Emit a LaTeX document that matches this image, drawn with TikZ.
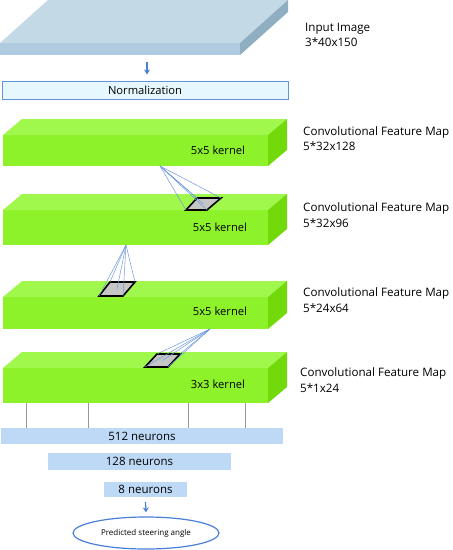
\documentclass[tikz,border=0pt]{standalone}
\usepackage{fontspec}
\setmainfont{Open Sans}
\usepackage{tikz}
\usetikzlibrary{arrows.meta,positioning,calc,shapes.geometric}

\definecolor{greentop}{HTML}{A0F84C}
\definecolor{greenfront}{HTML}{8EF22B}
\definecolor{greenside}{HTML}{72D90A}
\definecolor{inputtop}{HTML}{C3D9E6}
\definecolor{inputfront}{HTML}{AECBDF}
\definecolor{inputside}{HTML}{8FAEC1}
\definecolor{neuronfill}{HTML}{BED9F5}
\definecolor{arrowblue}{HTML}{4A7FD6}

\begin{document}
\begin{tikzpicture}[
  x=1pt, y=-1pt,
  font=\fontsize{11}{14}\selectfont,
  front/.style={fill=greenfront, minimum width=265pt, minimum height=#1 pt, inner sep=0pt, outer sep=0pt, anchor=north west},
  topface/.style={fill=greentop},
  sideface/.style={fill=greenside},
  kern/.style={font=\fontsize{11.2}{13}\selectfont},
  lab/.style={align=left, anchor=west, font=\fontsize{11.6}{15.5}\selectfont, inner sep=0pt},
  neurons/.style={fill=neuronfill, inner sep=0pt, font=\fontsize{11.5}{13}\selectfont},
  fan/.style={draw=arrowblue!80, line width=0.5pt},
  patch/.style={draw=black, fill=gray!45, line width=1.6pt, line join=miter},
  link/.style={draw=gray!80, line width=0.8pt},
  arr/.style={draw=arrowblue, line width=1.2pt, -{Stealth[length=5pt,width=6pt]}}
]
\useasboundingbox (0,0) rectangle (453,550);

% Input image slab.
\node[fill=inputfront, minimum width=240pt, minimum height=12pt, inner sep=0pt, outer sep=0pt, anchor=north west] (s0) at (0,43) {};
\fill[inputtop] (s0.north west) -- ++(48,-43) -- ++(240,0) -- (s0.north east) -- cycle;
\fill[inputside] (s0.north east) -- ++(48,-43) -- ++(0,12) -- (s0.south east) -- cycle;
\node[lab] (l0) at (305,35) {Input Image\\3*40x150};

% Normalization.
\node[draw=arrowblue!85, fill=cyan!10, line width=1pt, minimum width=286pt, minimum height=18pt, inner sep=0pt, font=\fontsize{11.2}{13}\selectfont] (norm) at (145,90) {Normalization};
\draw[arr] ([shift={(2,-19)}]norm.north) -- ([shift={(2,-6)}]norm.north);

% Convolutional slabs.
\foreach \n/\y/\h in {1/135/31,2/210/35,3/297/32,4/368/35} {
  \node[front=\h] (s\n) at (3,\y) {};
  \fill[topface] (s\n.north west) -- ++(19,-16) -- ++(265,0) -- (s\n.north east) -- cycle;
  \fill[sideface] (s\n.north east) -- ++(19,-16) -- ++(0,\h) -- (s\n.south east) -- cycle;
}
\node[kern] (k1) at (218,150) {5x5 kernel};
\node[kern] (k2) at (220,227) {5x5 kernel};
\node[kern] (k3) at (220,311) {5x5 kernel};
\node[kern] (k4) at (218,384) {3x3 kernel};

\node[lab] (l1) at (303,138.5) {Convolutional Feature Map\\5*32x128};
\node[lab] (l2) at (303,215) {Convolutional Feature Map\\5*32x96};
\node[lab] (l3) at (303,300) {Convolutional Feature Map\\5*24x64};
\node[lab] (l4) at (300,380) {Convolutional Feature Map\\5*1x24};

% Kernel patches and their receptive fields.
\coordinate (src2) at (160,166);
\coordinate (src3) at (126,245);
\coordinate (src4) at (210,329);
\foreach \px/\py [count=\i] in {186/210,197/198,221/198,207/210} \coordinate (p2-\i) at (\px,\py);
\foreach \px/\py [count=\i] in {99/296,110/282,135/282,123/296} \coordinate (p3-\i) at (\px,\py);
\foreach \px/\py [count=\i] in {145/367,157/354,180/354,168/367} \coordinate (p4-\i) at (\px,\py);
\foreach \k in {2,3,4} {
  \draw[patch] (p\k-1) -- (p\k-2) -- (p\k-3) -- (p\k-4) -- cycle;
  \foreach \i in {1,...,4} \draw[fan] (src\k) -- (p\k-\i);
  \draw[fan] (src\k) -- ($(p\k-1)!0.5!(p\k-3)$);
}

% Dense layers.
\node[neurons, minimum width=282pt, minimum height=16pt] (d512) at (142,436) {512 neurons};
\node[neurons, minimum width=183pt, minimum height=17pt] (d128) at (139.5,461.5) {128 neurons};
\node[neurons, minimum width=83pt, minimum height=15pt] (d8) at (145.5,489.5) {8 neurons};
\foreach \x in {26,88,188,245} {
  \draw[link] (s4.south west -| \x,0) -- (d512.north west -| \x,0);
}

% Output.
\node[ellipse, draw=arrowblue, line width=1.2pt, minimum width=146pt, minimum height=32pt, inner sep=0pt, font=\fontsize{8}{10}\selectfont] (out) at (146,533) {Predicted steering angle};
\draw[arr] ([shift={(0,5)}]d8.south) -- ([shift={(0,-4)}]out.north);
\end{tikzpicture}
\end{document}
